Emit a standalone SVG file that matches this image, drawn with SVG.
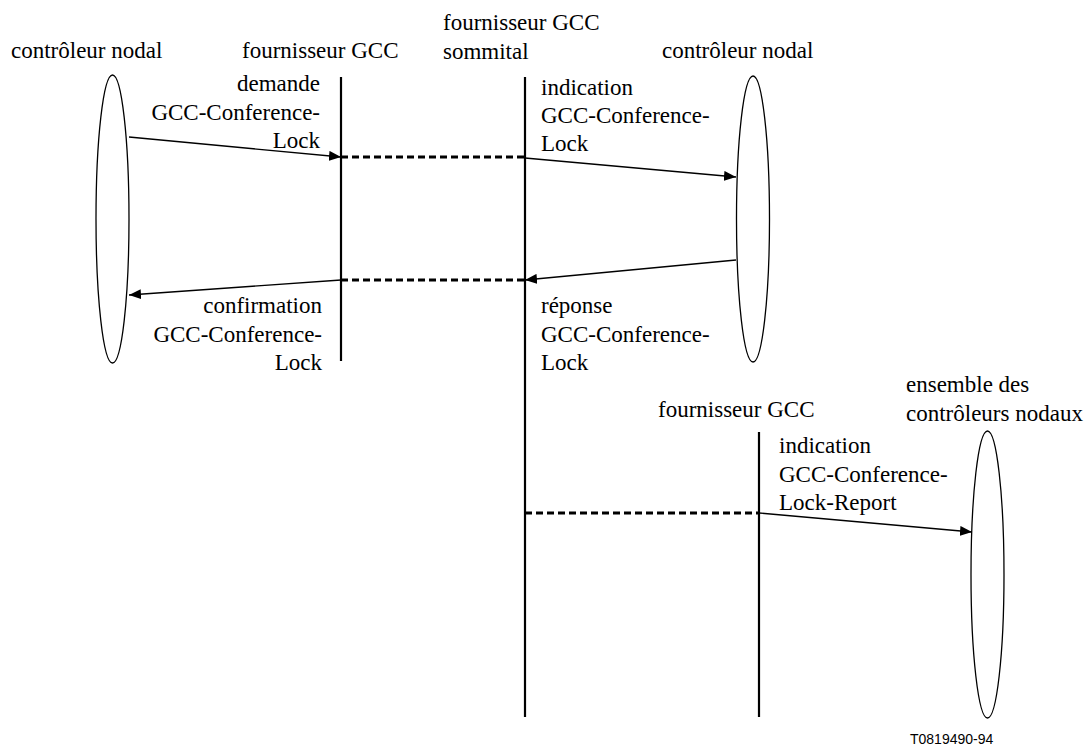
<svg xmlns="http://www.w3.org/2000/svg" width="1090" height="746" viewBox="0 0 1090 746">
  <defs>
    <marker id="arrow" viewBox="0 0 12 10" refX="12" refY="5" markerWidth="12" markerHeight="10" markerUnits="userSpaceOnUse" orient="auto">
      <path d="M0,0 L12,5 L0,10 Z" fill="#000"/>
    </marker>
  </defs>

  <rect width="1090" height="746" fill="#fff"/>

  <!-- local node controller -->
  <g id="node-controller-left">
    <ellipse cx="112.5" cy="219" rx="16.5" ry="144" fill="#fff" stroke="#000" stroke-width="1.3"/>
    <text x="11" y="58" font-family="Times New Roman, Liberation Serif, serif" font-size="23">contrôleur nodal</text>
  </g>

  <!-- local GCC provider -->
  <g id="gcc-provider-left">
    <line x1="341" y1="77" x2="341" y2="361" stroke="#000" stroke-width="2.2"/>
    <text x="242" y="58" font-family="Times New Roman, Liberation Serif, serif" font-size="23">fournisseur GCC</text>
  </g>

  <!-- top GCC provider -->
  <g id="gcc-provider-top">
    <line x1="525" y1="77" x2="525" y2="717" stroke="#000" stroke-width="2.2"/>
    <text x="443" y="30" font-family="Times New Roman, Liberation Serif, serif" font-size="23">fournisseur GCC</text>
    <text x="443" y="59" font-family="Times New Roman, Liberation Serif, serif" font-size="23">sommital</text>
  </g>

  <!-- top node controller -->
  <g id="node-controller-right">
    <ellipse cx="753" cy="219" rx="16.5" ry="143" fill="#fff" stroke="#000" stroke-width="1.3"/>
    <text x="662" y="58" font-family="Times New Roman, Liberation Serif, serif" font-size="23">contrôleur nodal</text>
  </g>

  <!-- remote GCC provider -->
  <g id="gcc-provider-remote">
    <line x1="759" y1="432" x2="759" y2="717" stroke="#000" stroke-width="2.2"/>
    <text x="658" y="417" font-family="Times New Roman, Liberation Serif, serif" font-size="23">fournisseur GCC</text>
  </g>

  <!-- all node controllers -->
  <g id="node-controllers-all">
    <ellipse cx="987.5" cy="574.5" rx="16.5" ry="143.5" fill="#fff" stroke="#000" stroke-width="1.3"/>
    <text x="906" y="392" font-family="Times New Roman, Liberation Serif, serif" font-size="23">ensemble des</text>
    <text x="906" y="421" font-family="Times New Roman, Liberation Serif, serif" font-size="23">contrôleurs nodaux</text>
  </g>

  <!-- primitives and provider-to-provider exchanges -->
  <g id="connectors" fill="none" stroke="#000">
    <g stroke-width="3.2" stroke-dasharray="7 4">
      <line x1="341" y1="157" x2="525" y2="157"/>
      <line x1="341" y1="280" x2="525" y2="280"/>
      <line x1="525" y1="513" x2="759" y2="513"/>
    </g>
    <g stroke-width="1.3" marker-end="url(#arrow)">
      <line x1="129" y1="137" x2="341" y2="157"/>
      <line x1="525" y1="158" x2="736" y2="177"/>
      <line x1="736" y1="260" x2="525" y2="280"/>
      <line x1="341" y1="280" x2="129" y2="295"/>
      <line x1="759" y1="513" x2="972" y2="532"/>
    </g>
  </g>

  <!-- primitive labels -->
  <g id="labels">
    <text text-anchor="end" x="320" y="91" font-family="Times New Roman, Liberation Serif, serif" font-size="23">demande</text>
    <text text-anchor="end" x="320" y="120" font-family="Times New Roman, Liberation Serif, serif" font-size="23">GCC-Conference-</text>
    <text text-anchor="end" x="320" y="148" font-family="Times New Roman, Liberation Serif, serif" font-size="23">Lock</text>

    <text x="541" y="95" font-family="Times New Roman, Liberation Serif, serif" font-size="23">indication</text>
    <text x="541" y="123" font-family="Times New Roman, Liberation Serif, serif" font-size="23">GCC-Conference-</text>
    <text x="541" y="151" font-family="Times New Roman, Liberation Serif, serif" font-size="23">Lock</text>

    <text text-anchor="end" x="322" y="313" font-family="Times New Roman, Liberation Serif, serif" font-size="23">confirmation</text>
    <text text-anchor="end" x="322" y="342" font-family="Times New Roman, Liberation Serif, serif" font-size="23">GCC-Conference-</text>
    <text text-anchor="end" x="322" y="370" font-family="Times New Roman, Liberation Serif, serif" font-size="23">Lock</text>

    <text x="541" y="313" font-family="Times New Roman, Liberation Serif, serif" font-size="23">réponse</text>
    <text x="541" y="342" font-family="Times New Roman, Liberation Serif, serif" font-size="23">GCC-Conference-</text>
    <text x="541" y="370" font-family="Times New Roman, Liberation Serif, serif" font-size="23">Lock</text>

    <text x="779" y="453" font-family="Times New Roman, Liberation Serif, serif" font-size="23">indication</text>
    <text x="779" y="482" font-family="Times New Roman, Liberation Serif, serif" font-size="23">GCC-Conference-</text>
    <text x="779" y="510" font-family="Times New Roman, Liberation Serif, serif" font-size="23">Lock-Report</text>
  </g>

  <text x="910" y="744" font-family="Liberation Sans, sans-serif" font-size="14">T0819490-94</text>
</svg>
